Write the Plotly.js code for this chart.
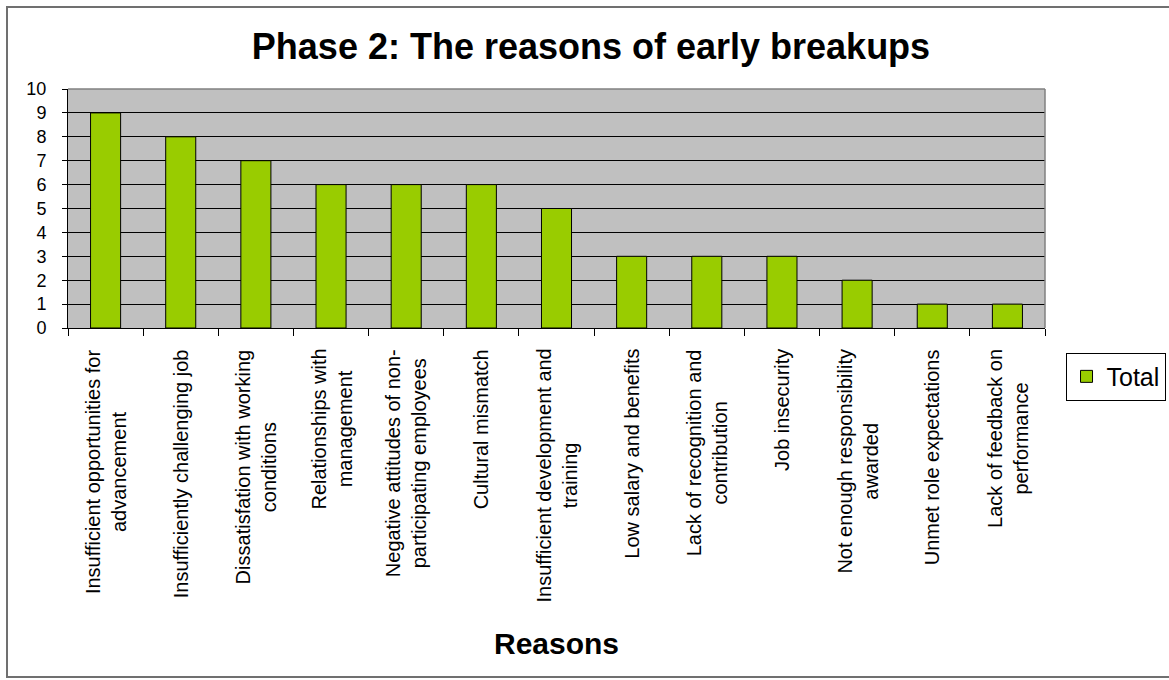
<!DOCTYPE html>
<html>
<head>
<meta charset="utf-8">
<script src="https://cdn.plot.ly/plotly-3.0.1.min.js"></script>
<style>html,body{margin:0;padding:0;background:#fff;}#chart{width:1169px;height:680px;}</style>
</head>
<body>
<div id="chart"></div>
<script>
const categories = [
  "Insufficient opportunities for<br>advancement",
  "Insufficiently challenging job",
  "Dissatisfation with working<br>conditions",
  "Relationships with<br>management",
  "Negative attitudes of non-<br>participating employees",
  "Cultural mismatch",
  "Insufficient development and<br>training",
  "Low salary and benefits",
  "Lack of recognition and<br>contribution",
  "Job insecurity",
  "Not enough responsibility<br>awarded",
  "Unmet role expectations",
  "Lack of feedback on<br>performance"
];
const totals = [9, 8, 7, 6, 6, 6, 5, 3, 3, 3, 2, 1, 1];
const yTicks = [0, 1, 2, 3, 4, 5, 6, 7, 8, 9, 10];
const seriesName = "Total";
const chartTitle = "Phase 2: The reasons of early breakups";
const xTitle = "Reasons";

const FONT = "Liberation Sans, Arial, sans-serif";

const trace = {
  type: "bar",
  x: categories,
  y: totals,
  name: seriesName,
  width: 0.4,
  marker: {color: "#99cc00", line: {color: "#000000", width: 1}},
  hoverinfo: "x+y"
};

const labelAnnotations = categories.map(c => ({
  x: c, xref: "x",
  y: 0, yref: "paper",
  yanchor: "top", xanchor: "center",
  yshift: -19,
  text: c,
  textangle: -90,
  align: "center",
  showarrow: false,
  font: {family: FONT, size: 20, color: "#000"}
}));

const layout = {
  width: 1169, height: 680,
  margin: {l: 68, r: 124, t: 89, b: 352, autoexpand: false},
  paper_bgcolor: "#ffffff",
  plot_bgcolor: "#c0c0c0",
  font: {family: FONT, color: "#000"},
  title: {
    text: "<b>" + chartTitle + "</b>",
    font: {family: FONT, size: 36, color: "#000"},
    x: 591 / 1169, xanchor: "center", xref: "container",
    y: 1 - 46 / 680, yanchor: "middle", yref: "container"
  },
  showlegend: true,
  legend: {
    x: 1.021, xanchor: "left",
    y: -0.103, yanchor: "top",
    bgcolor: "#ffffff",
    bordercolor: "#000000", borderwidth: 1,
    font: {family: FONT, size: 25, color: "#000"},
    itemwidth: 30
  },
  xaxis: {
    type: "category",
    showticklabels: false,
    showline: true, linecolor: "#000", linewidth: 1,
    ticks: "outside", tickson: "boundaries", ticklen: 7, tickcolor: "#000",
    showgrid: false, zeroline: false,
    fixedrange: true
  },
  yaxis: {
    range: [0, 10],
    tickvals: yTicks,
    ticktext: yTicks.map(String),
    tickfont: {family: FONT, size: 18, color: "#000"},
    showline: true, linecolor: "#000", linewidth: 1,
    ticks: "outside", ticklen: 5, tickcolor: "#000",
    ticklabelstandoff: 12,
    showgrid: true, gridcolor: "#000", gridwidth: 1,
    zeroline: false,
    fixedrange: true
  },
  annotations: labelAnnotations.concat([{
    x: 0.5, xref: "paper",
    y: (328 - 643) / 239, yref: "paper",
    xanchor: "center", yanchor: "middle",
    text: "<b>" + xTitle + "</b>",
    showarrow: false,
    font: {family: FONT, size: 30, color: "#000"}
  }]),
  shapes: [
    {type: "line", xref: "paper", yref: "paper", x0: 0, x1: 1, y0: 1, y1: 1,
     line: {color: "#808080", width: 1.5}, layer: "above"},
    {type: "line", xref: "paper", yref: "paper", x0: 1, x1: 1, y0: 0, y1: 1,
     line: {color: "#808080", width: 1.5}, layer: "above"},
    {type: "rect", xref: "paper", yref: "paper",
     x0: (7 - 68) / 977, x1: (1180 - 68) / 977,
     y0: (328 - 677) / 239, y1: (328 - 7) / 239,
     line: {color: "#707070", width: 2}, fillcolor: "rgba(0,0,0,0)", layer: "above"}
  ],
  bargap: 0.6
};

Plotly.newPlot("chart", [trace], layout, {displayModeBar: false});
</script>
</body>
</html>
